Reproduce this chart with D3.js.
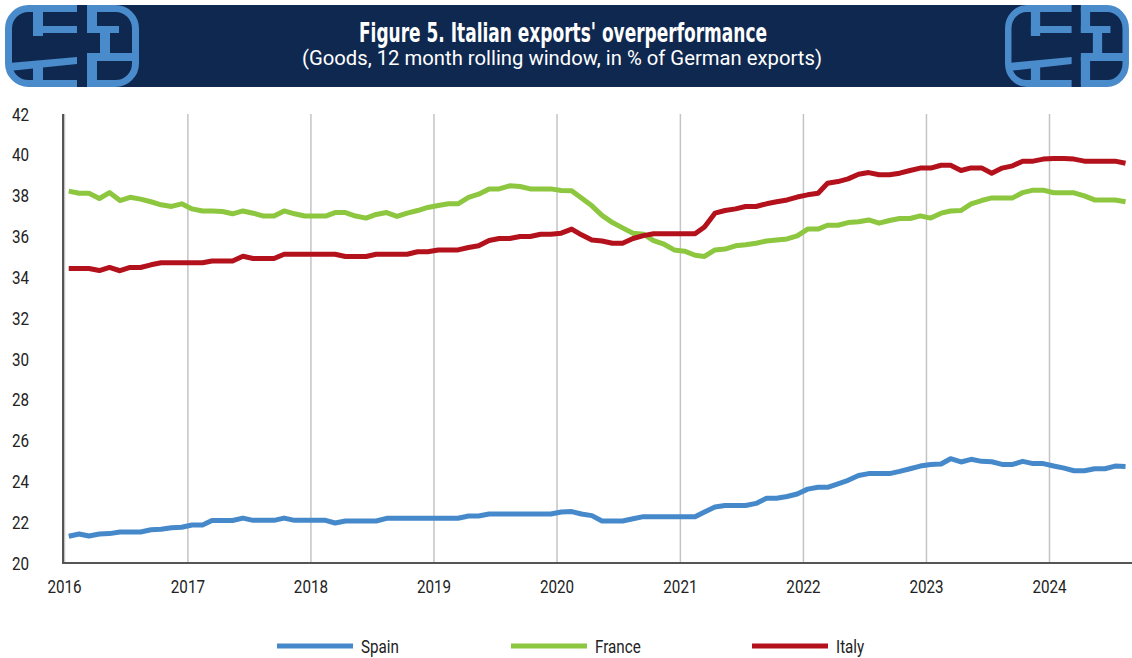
<!DOCTYPE html>
<html>
<head>
<meta charset="utf-8">
<script src="https://cdn.jsdelivr.net/npm/d3@7"></script>
<style>
  body { margin: 0; background: #fff; }
  svg { display: block; }
</style>
</head>
<body>
<script>
const w = 1132;
const h = 658;

// monthly, Jan 2016 - Aug 2024
const months = d3.timeMonth.range(new Date(2016, 0, 1), new Date(2024, 8, 1));
const seriesNames = ["Spain", "France", "Italy"];
const yTicks = [20, 22, 24, 26, 28, 30, 32, 34, 36, 38, 40, 42];
const yearTicks = [2016, 2017, 2018, 2019, 2020, 2021, 2022, 2023, 2024];

const spain = [
  21.31, 21.42, 21.32, 21.42, 21.44, 21.52, 21.52, 21.52, 21.63, 21.65, 21.73, 21.75,
  21.86, 21.86, 22.08, 22.08, 22.08, 22.20, 22.09, 22.09, 22.09, 22.20, 22.09, 22.09,
  22.09, 22.09, 21.96, 22.06, 22.06, 22.06, 22.06, 22.19, 22.19, 22.19, 22.19, 22.19,
  22.19, 22.19, 22.19, 22.30, 22.30, 22.40, 22.40, 22.40, 22.40, 22.40, 22.40, 22.40,
  22.50, 22.52, 22.40, 22.32, 22.06, 22.06, 22.06, 22.17, 22.27, 22.27, 22.27, 22.27,
  22.27, 22.27, 22.50, 22.74, 22.82, 22.82, 22.82, 22.92, 23.17, 23.17, 23.26, 23.38,
  23.62, 23.71, 23.71, 23.88, 24.05, 24.29, 24.38, 24.38, 24.38, 24.49, 24.62, 24.75,
  24.83, 24.85, 25.11, 24.95, 25.08, 24.98, 24.96, 24.83, 24.83, 24.98, 24.87, 24.87,
  24.75, 24.65, 24.52, 24.52, 24.62, 24.62, 24.75, 24.73
];

const france = [
  38.22, 38.12, 38.12, 37.86, 38.15, 37.76, 37.92, 37.83, 37.70, 37.55, 37.47, 37.60,
  37.35, 37.25, 37.25, 37.22, 37.11, 37.25, 37.14, 37.00, 37.00, 37.25, 37.11, 37.00,
  37.00, 37.00, 37.17, 37.17, 37.00, 36.90, 37.08, 37.17, 36.98, 37.14, 37.27, 37.42,
  37.52, 37.60, 37.60, 37.91, 38.07, 38.33, 38.33, 38.48, 38.45, 38.33, 38.33, 38.33,
  38.25, 38.24, 37.88, 37.50, 37.03, 36.68, 36.42, 36.16, 36.11, 35.80, 35.62, 35.34,
  35.28, 35.08, 35.02, 35.34, 35.38, 35.54, 35.59, 35.67, 35.78, 35.83, 35.88, 36.03,
  36.36, 36.36, 36.55, 36.55, 36.68, 36.72, 36.81, 36.65, 36.78, 36.88, 36.88, 37.01,
  36.90, 37.14, 37.25, 37.27, 37.60, 37.76, 37.89, 37.89, 37.89, 38.15, 38.27, 38.27,
  38.14, 38.14, 38.14, 37.99, 37.79, 37.79, 37.79, 37.70
];

const italy = [
  34.43, 34.43, 34.43, 34.33, 34.48, 34.32, 34.48, 34.48, 34.61, 34.71, 34.71, 34.71,
  34.71, 34.71, 34.80, 34.80, 34.80, 35.03, 34.92, 34.92, 34.92, 35.13, 35.13, 35.13,
  35.13, 35.13, 35.13, 35.02, 35.02, 35.02, 35.13, 35.13, 35.13, 35.13, 35.25, 35.25,
  35.34, 35.34, 35.34, 35.46, 35.54, 35.80, 35.90, 35.90, 36.00, 36.00, 36.11, 36.11,
  36.16, 36.36, 36.08, 35.83, 35.78, 35.67, 35.67, 35.90, 36.04, 36.13, 36.13, 36.13,
  36.13, 36.13, 36.46, 37.14, 37.27, 37.35, 37.47, 37.47, 37.60, 37.70, 37.79, 37.93,
  38.04, 38.12, 38.61, 38.69, 38.82, 39.05, 39.13, 39.02, 39.02, 39.10, 39.23, 39.35,
  39.35, 39.49, 39.49, 39.23, 39.36, 39.36, 39.10, 39.35, 39.46, 39.69, 39.69, 39.79,
  39.82, 39.82, 39.79, 39.69, 39.69, 39.69, 39.69, 39.59
];

const colors = ["#4689cb", "#8dc63f", "#b3111c"];
const navy = "#0f2850";
const logoBlue = "#4a8bcb";
const narrow = "'Liberation Sans Narrow', 'DejaVu Sans Condensed', 'Roboto', sans-serif";
const squeeze = 0.8;   // fake a condensed face for the labels

const svg = d3.select("body")
              .append("svg")
              .attr("width", w)
              .attr("height", h);

svg.append("rect").attr("width", w).attr("height", h).attr("fill", "#fff");

///////// header
svg.append("rect")
   .attr("x", 60).attr("y", 5)
   .attr("width", 1010).attr("height", 82)
   .attr("fill", navy);

function drawLogo(g) {
  g.append("rect")
   .attr("x", 3.5).attr("y", 3.5).attr("width", 127).attr("height", 75).attr("rx", 20)
   .attr("fill", navy).attr("stroke", logoBlue).attr("stroke-width", 7);
  g.append("rect").attr("x", 72).attr("y", 0).attr("width", 10).attr("height", 82).attr("fill", navy);
  const bars = [
    [28, 3, 10, 28], [28, 21, 44, 7], [28, 60, 10, 19],
    [82, 3, 10, 25], [82, 21, 32, 7], [95, 21, 10, 33], [82, 48, 48, 8], [82, 52, 10, 27]
  ];
  g.selectAll("rect.bar")
   .data(bars)
   .enter()
   .append("rect")
   .attr("class", "bar")
   .attr("x", d => d[0]).attr("y", d => d[1])
   .attr("width", d => d[2]).attr("height", d => d[3])
   .attr("fill", logoBlue);
  g.append("polygon")
   .attr("points", "4,58 72,52 72,59 4,66")
   .attr("fill", logoBlue);
}
drawLogo(svg.append("g").attr("transform", "translate(5,5)"));
drawLogo(svg.append("g").attr("transform", "translate(1005,5) scale(0.925,1)"));

svg.append("text")
   .attr("x", 563).attr("y", 42)
   .attr("text-anchor", "middle")
   .attr("fill", "#fff")
   .attr("font-family", narrow)
   .attr("font-weight", "bold")
   .attr("font-size", 27)
   .attr("textLength", 408)
   .attr("lengthAdjust", "spacingAndGlyphs")
   .text("Figure 5. Italian exports' overperformance");

svg.append("text")
   .attr("x", 562).attr("y", 65)
   .attr("text-anchor", "middle")
   .attr("fill", "#fff")
   .attr("font-family", "Roboto, sans-serif")
   .attr("font-size", 20)
   .attr("textLength", 520)
   .attr("lengthAdjust", "spacingAndGlyphs")
   .text("(Goods, 12 month rolling window, in % of German exports)");

///////// scales
const xScale = d3.scaleTime()
                 .domain([new Date(2016, 0, 1), new Date(2024, 0, 1)])
                 .range([64, 1049]);

const yScale = d3.scaleLinear()
                 .domain([20, 42])
                 .range([563, 114]);

const mid = d => d3.timeDay.offset(d, 14);

// x axis with year gridlines
const xAxis = d3.axisBottom(xScale)
                .tickValues(yearTicks.map(y => new Date(y, 0, 1)))
                .tickFormat(d3.timeFormat("%Y"))
                .tickSize(-(563 - 114))
                .tickPadding(17);

const gx = svg.append("g")
   .attr("transform", "translate(0,563)")
   .call(xAxis);
gx.select(".domain").remove();
gx.selectAll(".tick line").attr("stroke", "#c4c4c4").attr("stroke-width", 1.5);
gx.selectAll(".tick text")
  .attr("font-family", "Roboto, sans-serif")
  .attr("font-size", 19).attr("fill", "#222").attr("dy", "0.71em")
  .attr("transform", "scale(" + squeeze + ",1)");

const yAxis = d3.axisLeft(yScale)
                .tickValues(yTicks)
                .tickSize(0)
                .tickPadding(35);

const gy = svg.append("g")
   .attr("transform", "translate(64,0)")
   .call(yAxis);
gy.select(".domain").remove();
gy.selectAll(".tick text")
  .attr("font-family", "Roboto, sans-serif")
  .attr("font-size", 19).attr("fill", "#222")
  .attr("x", -35 / squeeze)
  .attr("transform", "scale(" + squeeze + ",1)");

// axis lines
svg.append("line")
   .attr("x1", 63).attr("x2", 63)
   .attr("y1", yScale(42)).attr("y2", yScale(20) + 1)
   .attr("stroke", "#555").attr("stroke-width", 2);
svg.append("line")
   .attr("x1", 63).attr("x2", w)
   .attr("y1", yScale(20)).attr("y2", yScale(20))
   .attr("stroke", "#555").attr("stroke-width", 2);

///////// lines
const line = d3.line()
               .x((d, i) => xScale(mid(months[i])))
               .y(d => yScale(d));

[spain, france, italy].forEach(function(s, k) {
  svg.append("path")
     .datum(s)
     .attr("d", line)
     .attr("fill", "none")
     .attr("stroke", colors[k])
     .attr("stroke-width", 5)
     .attr("stroke-linejoin", "round");
});

///////// legend
const legendX = [277, 511, 752];
const lg = svg.selectAll("g.legend")
   .data(seriesNames)
   .enter()
   .append("g")
   .attr("class", "legend")
   .attr("transform", (d, i) => "translate(" + legendX[i] + ",646)");

lg.append("line")
  .attr("x1", 0).attr("x2", 76)
  .attr("stroke", (d, i) => colors[i])
  .attr("stroke-width", 5);

lg.append("text")
  .attr("transform", "translate(84,6.5) scale(" + squeeze + ",1)")
  .attr("font-family", "Roboto, sans-serif")
  .attr("font-size", 19)
  .attr("fill", "#222")
  .text(d => d);
</script>
</body>
</html>
